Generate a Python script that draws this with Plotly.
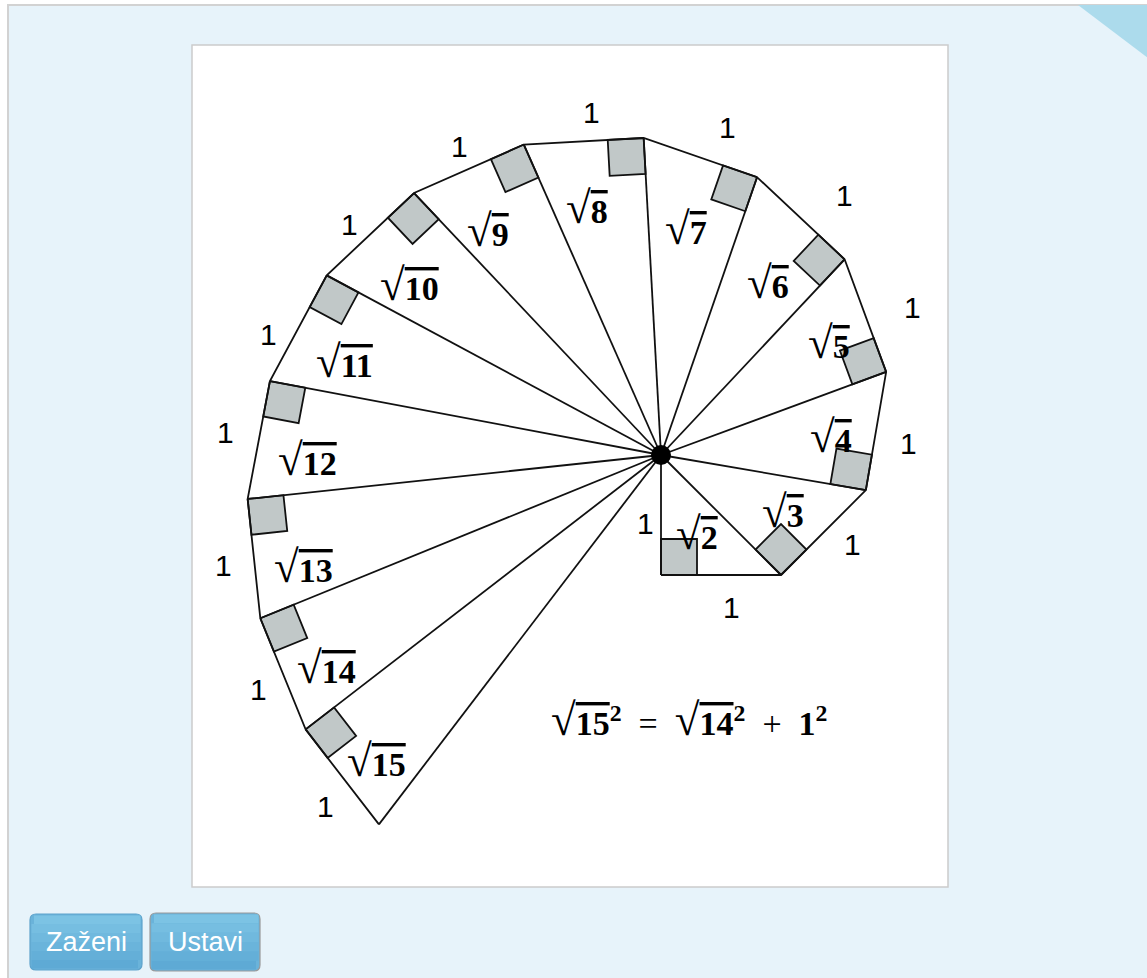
import numpy as np
import plotly.graph_objects as go

# ---------------- data ----------------
first_leg = 1                                   # vertical leg O-P0
outer_legs = [1, 1, 1, 1, 1, 1, 1, 1, 1, 1, 1, 1, 1, 1]   # outer leg of each triangle
radicands = [2, 3, 4, 5, 6, 7, 8, 9, 10, 11, 12, 13, 14, 15]  # hypotenuse = sqrt(n)
leg_text = "1"
button_labels = ["Zaženi", "Ustavi"]

# ---------------- layout constants ----------------
W, H = 1147, 978
UNIT = 120.0            # pixels per unit
CX, CY = 661.0, 455.0   # pixel position of spiral centre
SQ = 0.3                # right-angle marker size (units)

def d(xp, yp):
    """pixel -> data coordinates (for page decorations)"""
    return ((xp - CX) / UNIT, (CY - yp) / UNIT)

# ---------------- geometry from the data ----------------
pts = [np.array([0.0, -float(first_leg)])]
for L in outer_legs:
    p = pts[-1]
    r = np.hypot(*p)
    perp = np.array([-p[1], p[0]]) / r
    pts.append(p + L * perp)

# radial lines and outer polyline
lx, ly = [], []
for p in pts:
    lx += [0, p[0], None]
    ly += [0, p[1], None]
lx += [p[0] for p in pts]
ly += [p[1] for p in pts]

# right-angle squares
sx, sy = [], []
for k in range(len(outer_legs)):
    p = pts[k]
    r = np.hypot(*p)
    u = -p / r
    v = np.array([-p[1], p[0]]) / r
    corners = [p, p + SQ * u, p + SQ * (u + v), p + SQ * v, p]
    sx += [c[0] for c in corners] + [None]
    sy += [c[1] for c in corners] + [None]

fig = go.Figure()
fig.add_trace(go.Scatter(x=sx, y=sy, mode="lines", fill="toself",
                         fillcolor="#c1c8c8", line=dict(color="#111", width=1.8),
                         hoverinfo="skip", showlegend=False))
fig.add_trace(go.Scatter(x=lx, y=ly, mode="lines",
                         line=dict(color="#111", width=1.8),
                         hoverinfo="skip", showlegend=False))
fig.add_trace(go.Scatter(x=[0], y=[0], mode="markers",
                         marker=dict(color="black", size=20),
                         hoverinfo="skip", showlegend=False))

annotations = []
# "1" labels (style offsets in pixels: right, down)
leg_shift_first = (-16, 8)
leg_shifts = [(10, 32), (29, 12), (32, 12), (47, -8), (44, -23), (27, -30), (8, -29),
              (-9, -22), (-21, -10), (-30, 6), (-33, -8), (-30, 7), (-24, 16), (-17, 30)]
sans = dict(family="Liberation Sans, Arial", size=30, color="black")
m0 = pts[0] / 2
annotations.append(dict(x=m0[0], y=m0[1], text=leg_text, showarrow=False, font=sans,
                        xshift=leg_shift_first[0], yshift=-leg_shift_first[1]))
for k in range(len(outer_legs)):
    m = (pts[k] + pts[k + 1]) / 2
    dx, dy = leg_shifts[k]
    annotations.append(dict(x=m[0], y=m[1], text=leg_text, showarrow=False, font=sans,
                            xshift=dx, yshift=-dy))

# sqrt labels
serif = dict(family="Liberation Serif, DejaVu Serif", size=34, color="black", weight="bold")
root_shifts = [(-13, -19), (-11, -7), (-6, 2), (0, 2), (-8, 22), (-7, 18), (-11, 10),
               (-16, 11), (-13, 11), (-19, 11), (-24, 17), (-24, 27), (-25, 34), (-23, 42)]

def root(n):
    return ("<span style='font-size:45px;font-weight:normal'>√</span>"
            "<span style='text-decoration:overline'>%s</span>" % n)

for k, n in enumerate(radicands):
    m = 0.82 * (pts[k] + pts[k + 1]) / 2
    dx, dy = root_shifts[k]
    annotations.append(dict(x=m[0], y=m[1], text=root(n), showarrow=False, font=serif,
                            xshift=dx, yshift=-dy))

# equation
sp = "\u00a0"
op = lambda s: "<span style='font-weight:normal'>%s%s%s</span>" % (sp * 2, s, sp * 2)
eq = ("%s<sup>2</sup>%s%s<sup>2</sup>%s1<sup>2</sup>"
      % (root(radicands[-1]), op("="), root(radicands[-2]), op("+")))
ex, ey = d(689, 720)
annotations.append(dict(x=ex, y=ey, text=eq, showarrow=False, font=serif))

# ---------------- page decorations ----------------
shapes = []
bx0, by0 = d(8, 5)
bx1, by1 = d(1160, 990)
shapes.append(dict(type="rect", x0=bx0, y0=by0, x1=bx1, y1=by1,
                   fillcolor="#e7f3fa", line=dict(color="#d2d2d2", width=2), layer="below"))
t1, t2, t3 = d(1078, 5), d(1148, 5), d(1148, 58)
shapes.append(dict(type="path",
                   path="M %f %f L %f %f L %f %f Z" % (t1[0], t1[1], t2[0], t2[1], t3[0], t3[1]),
                   fillcolor="#acdbec", line=dict(width=0), layer="below"))
wx0, wy0 = d(192, 45)
wx1, wy1 = d(948, 887)
shapes.append(dict(type="rect", x0=wx0, y0=wy0, x1=wx1, y1=wy1,
                   fillcolor="white", line=dict(color="#cccccc", width=1.5), layer="below"))

def rrect(x0, y0, x1, y1, r):
    P = lambda a, b: "%f %f" % d(a, b)
    return ("M " + P(x0 + r, y0) + " L " + P(x1 - r, y0) + " Q " + P(x1, y0) + " " + P(x1, y0 + r) +
            " L " + P(x1, y1 - r) + " Q " + P(x1, y1) + " " + P(x1 - r, y1) +
            " L " + P(x0 + r, y1) + " Q " + P(x0, y1) + " " + P(x0, y1 - r) +
            " L " + P(x0, y0 + r) + " Q " + P(x0, y0) + " " + P(x0 + r, y0) + " Z")

btn_boxes = [(30, 914, 142, 970), (150, 913, 260, 971)]
btn_lines = ["#5ea3cc", "#9a9a9a"]
btn_font = dict(family="Liberation Sans, Arial", size=27, color="white")
grad = ["#7cc3e4", "#76bee1", "#70b9de", "#6ab4db", "#64afd8", "#5eaad5"]
for (x0, y0, x1, y1), lc, lab in zip(btn_boxes, btn_lines, button_labels):
    shapes.append(dict(type="path", path=rrect(x0, y0, x1, y1, 6),
                       fillcolor="#6ab3da", line=dict(color=lc, width=1.2), layer="below"))
    # vertical gradient bands inside the button
    hgt = (y1 - y0 - 2) / len(grad)
    for i, c in enumerate(grad):
        a0, b0 = d(x0 + 1.5, y0 + 1 + i * hgt)
        a1, b1 = d(x1 - 1.5, y0 + 1 + (i + 1) * hgt)
        if i == 0:
            a0, b0 = d(x0 + 4, y0 + 1.5)
        if i == len(grad) - 1:
            a1, b1 = d(x1 - 4, y1 - 1.5)
        shapes.append(dict(type="rect", x0=a0, y0=b0, x1=a1, y1=b1,
                           fillcolor=c, line=dict(width=0), layer="below"))
    cx, cy = d((x0 + x1) / 2, (y0 + y1) / 2)
    annotations.append(dict(x=cx, y=cy, text=lab, showarrow=False, font=btn_font))

xr = [(0 - CX) / UNIT, (W - CX) / UNIT]
yr = [(CY - H) / UNIT, CY / UNIT]
fig.update_layout(
    width=W, height=H, margin=dict(l=0, r=0, t=0, b=0),
    paper_bgcolor="white", plot_bgcolor="rgba(0,0,0,0)",
    xaxis=dict(range=xr, visible=False, domain=[0, 1], fixedrange=True),
    yaxis=dict(range=yr, visible=False, domain=[0, 1], fixedrange=True),
    shapes=shapes, annotations=annotations, showlegend=False,
)
fig.write_html("out.html", config={"displayModeBar": False},
               post_script="document.body.style.margin='0';document.body.style.overflow='hidden';")
